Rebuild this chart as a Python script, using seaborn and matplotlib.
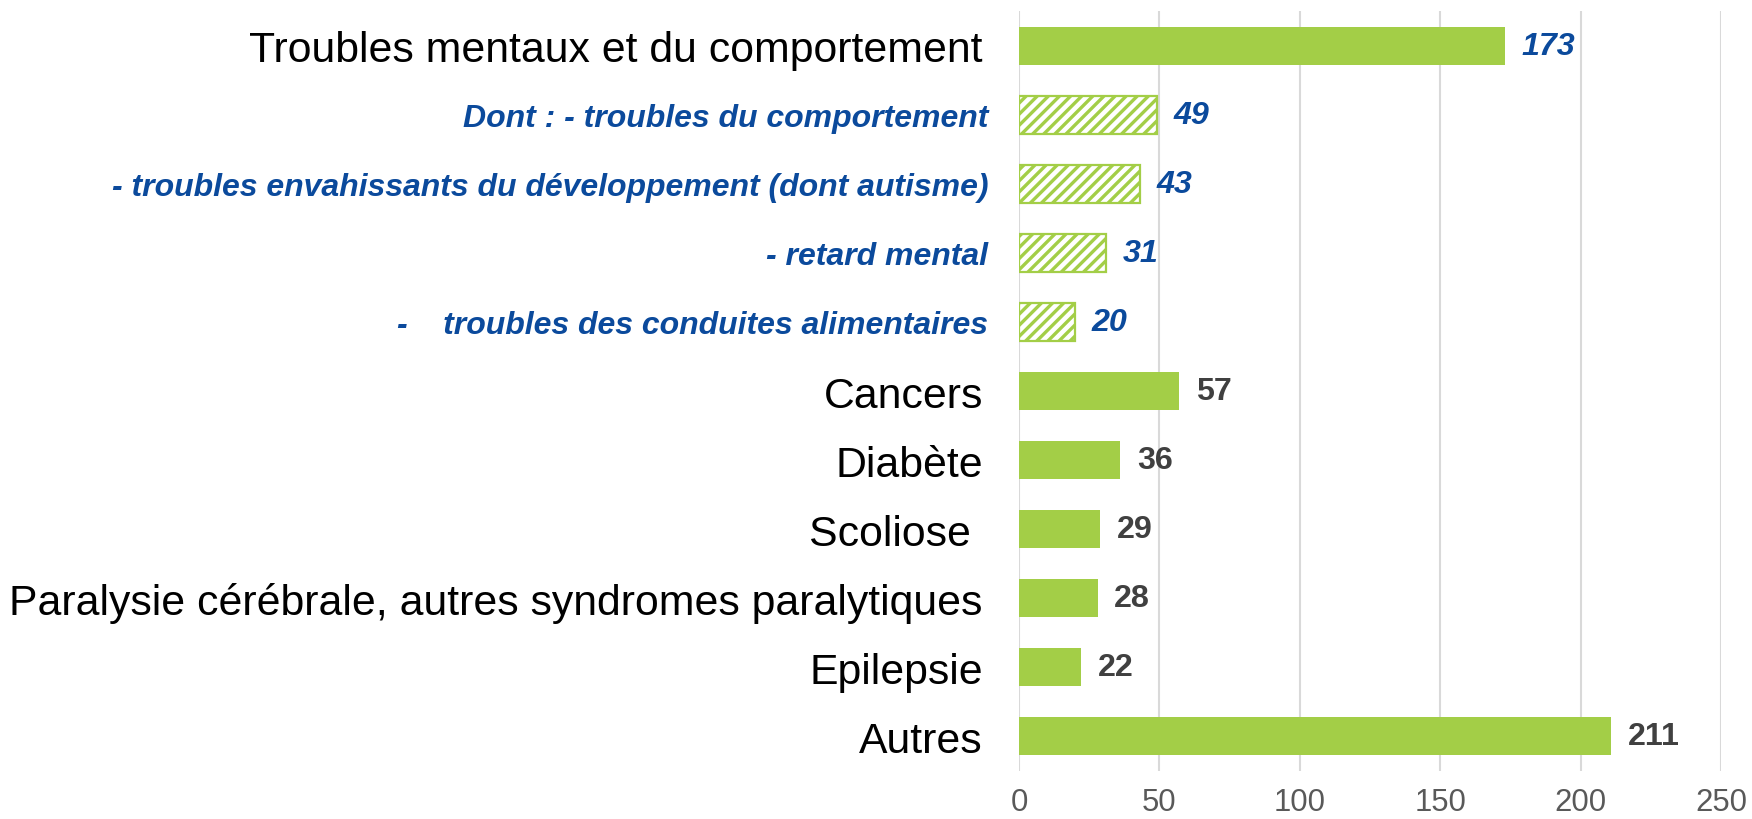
import matplotlib
matplotlib.use("Agg")
import matplotlib.pyplot as plt
import seaborn as sns
import pandas as pd

# ---- data ----
categories = [
    "Troubles mentaux et du comportement",
    "Dont : - troubles du comportement",
    "- troubles envahissants du développement (dont autisme)",
    "- retard mental",
    "-    troubles des conduites alimentaires",
    "Cancers",
    "Diabète",
    "Scoliose ",
    "Paralysie cérébrale, autres syndromes paralytiques",
    "Epilepsie",
    "Autres",
]
values = [173, 49, 43, 31, 20, 57, 36, 29, 28, 22, 211]
is_sub = [False, True, True, True, True, False, False, False, False, False, False]
italic_value = [True, True, True, True, True, False, False, False, False, False, False]
x_ticks = [0, 50, 100, 150, 200, 250]

GREEN = "#A3CE47"
BLUE = "#0B4A9C"
GRAY_VAL = "#404040"
GRAY_TICK = "#595959"

sns.set_style("white")
plt.rcParams["font.family"] = ["Liberation Sans", "DejaVu Sans"]
plt.rcParams["hatch.linewidth"] = 1.2

df = pd.DataFrame({"cat": categories, "val": values})

fig = plt.figure(figsize=(8.76, 4.1), dpi=200)
ax = fig.add_axes([0.5816, 0.0591, 0.4007, 0.9257])

sns.barplot(data=df, x="val", y="cat", orient="h", color=GREEN,
            saturation=1, width=0.54, ax=ax, zorder=2)

bars = ax.containers[0]
for patch, sub in zip(bars.patches, is_sub):
    if sub:
        patch.set_facecolor("white")
        patch.set_edgecolor(GREEN)
        patch.set_hatch("//////")
        patch.set_linewidth(0.8)
    else:
        patch.set_linewidth(0)

texts = ax.bar_label(bars, labels=[str(v) for v in values], padding=6)
for t, it in zip(texts, italic_value):
    t.set_fontweight("bold")
    t.set_fontsize(11.6)
    if it:
        t.set_fontstyle("italic")
        t.set_color(BLUE)
    else:
        t.set_color(GRAY_VAL)

ax.set_xlim(0, 250)
ax.set_ylim(len(categories) - 0.5, -0.5)
ax.set_xticks(x_ticks)
ax.set_xticklabels([str(v) for v in x_ticks])
ax.set_xlabel("")
ax.set_ylabel("")

ax.grid(axis="x", color="#D9D9D9", linewidth=0.75, zorder=0)
ax.grid(axis="y", visible=False)
ax.set_axisbelow(True)
for s in ax.spines.values():
    s.set_visible(False)

ax.tick_params(axis="x", length=0, pad=6, labelsize=11.2, labelcolor=GRAY_TICK)
ax.tick_params(axis="y", length=0)

for tick, lab, sub in zip(ax.yaxis.get_major_ticks(), ax.get_yticklabels(), is_sub):
    if sub:
        lab.set_fontsize(11.5)
        lab.set_fontweight("bold")
        lab.set_fontstyle("italic")
        lab.set_color(BLUE)
        tick.set_pad(11)
    else:
        lab.set_fontsize(15.4)
        lab.set_color("black")
        tick.set_pad(13)

fig.savefig("out.png", dpi=200)
